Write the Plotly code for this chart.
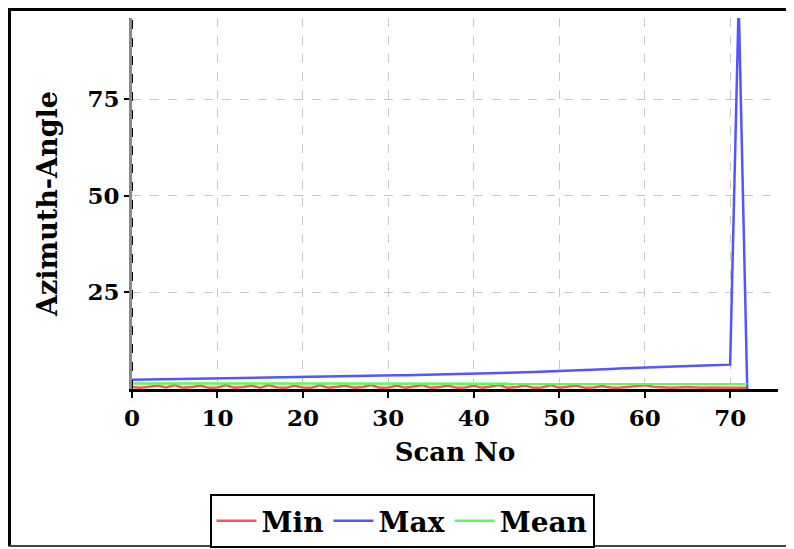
import plotly.graph_objects as go

# номер скана
scan_no = list(range(73))

# значения азимута по сканам
az_min = [0.5, 0.3, 0.6, 0.9, 0.4, 1.0, 0.3, 0.5, 0.9, 0.3,
          0.4, 1.0, 0.3, 0.5, 0.9, 0.3, 1.0, 0.4, 0.3, 0.9,
          0.4, 0.3, 1.0, 0.3, 0.6, 0.9, 0.3, 0.5, 1.0, 0.3,
          0.4, 0.9, 0.3, 0.6, 1.0, 0.3, 0.5, 0.9, 0.3, 0.4,
          0.9, 0.3, 0.6, 1.0, 0.3, 0.5, 0.9, 0.3, 0.4, 1.0,
          0.3, 0.6, 0.9, 0.3, 0.4, 0.8, 0.4, 0.3, 0.5, 0.7,
          1.0, 0.6, 0.4, 0.3, 0.4, 0.5, 0.4, 0.3, 0.4, 0.3,
          0.3, 0.3, 0.3]

az_max = [2.40, 2.43, 2.46, 2.49, 2.52, 2.55, 2.58, 2.61, 2.64, 2.67,
          2.70, 2.74, 2.78, 2.82, 2.86, 2.90, 2.94, 2.98, 3.02, 3.06,
          3.10, 3.14, 3.18, 3.22, 3.26, 3.30, 3.34, 3.38, 3.42, 3.46,
          3.50, 3.54, 3.58, 3.62, 3.66, 3.70, 3.74, 3.78, 3.82, 3.86,
          3.90, 3.97, 4.04, 4.11, 4.18, 4.25, 4.32, 4.39, 4.46, 4.53,
          4.60, 4.70, 4.80, 4.90, 5.00, 5.10, 5.20, 5.30, 5.40, 5.50,
          5.60, 5.67, 5.74, 5.81, 5.88, 5.95, 6.02, 6.09, 6.16, 6.23,
          6.30, 100.0, 0.0]

az_mean = [1.45, 1.45, 1.46, 1.45, 1.44, 1.45, 1.46, 1.45, 1.45, 1.44,
           1.45, 1.46, 1.45, 1.45, 1.44, 1.45, 1.46, 1.45, 1.45, 1.44,
           1.45, 1.45, 1.46, 1.45, 1.44, 1.45, 1.45, 1.46, 1.45, 1.44,
           1.45, 1.45, 1.46, 1.45, 1.44, 1.45, 1.45, 1.46, 1.45, 1.44,
           1.45, 1.44, 1.45, 1.44, 1.43, 1.44, 1.43, 1.42, 1.43, 1.42,
           1.42, 1.41, 1.42, 1.41, 1.40, 1.41, 1.40, 1.40, 1.39, 1.40,
           1.39, 1.38, 1.39, 1.38, 1.38, 1.37, 1.38, 1.37, 1.37, 1.36,
           1.36, 1.36, 1.35]

FONT = 'DejaVu Serif'

fig = go.Figure()
fig.add_trace(go.Scatter(x=scan_no, y=az_min, mode='lines', name='Min',
                         line=dict(color='rgb(255,85,85)', width=2.5)))
fig.add_trace(go.Scatter(x=scan_no, y=az_max, mode='lines', name='Max',
                         line=dict(color='rgb(85,85,255)', width=2.5)))
fig.add_trace(go.Scatter(x=scan_no, y=az_mean, mode='lines', name='Mean',
                         line=dict(color='rgb(85,255,85)', width=2.5)))

# страница сдвинута на 8px (отступ body), поэтому всё считаем от него
OFF = 8
W, H = 794, 549
L, R, T, B = 132 - OFF, W - (778 - OFF), 18 - OFF, H - (390 - OFF)
pw, ph = W - L - R, H - T - B
def px(x): return (x - OFF - L) / pw
def py(y): return (H - B - (y - OFF)) / ph

# рамка вокруг рисунка (правый край за пределами окна)
fig.add_shape(type='line', xref='paper', yref='paper', x0=px(9.5), x1=px(810), y0=py(9.5), y1=py(9.5),
              line=dict(color='black', width=3))
fig.add_shape(type='line', xref='paper', yref='paper', x0=px(9.5), x1=px(9.5), y0=py(8), y1=py(548),
              line=dict(color='black', width=3))
fig.add_shape(type='line', xref='paper', yref='paper', x0=px(9.5), x1=px(810), y0=py(547.5), y1=py(547.5),
              line=dict(color='#444', width=2))
# пунктир по оси Y
fig.add_shape(type='line', xref='x', yref='paper', x0=0, x1=0, y0=0, y1=1,
              line=dict(color='black', width=2, dash='dash'))

fig.update_layout(
    width=W, height=H,
    margin=dict(l=L, r=R, t=T, b=B),
    paper_bgcolor='white', plot_bgcolor='white',
    font=dict(family=FONT, color='black', weight='bold'),
    xaxis=dict(range=[0, 75.6], tickvals=[0, 10, 20, 30, 40, 50, 60, 70],
               tickfont=dict(size=23, family=FONT, weight='bold'),
               title=dict(text='Scan No', font=dict(size=26, family=FONT, weight='bold'), standoff=14),
               showline=True, linecolor='black', linewidth=3, automargin=False,
               ticks='outside', ticklen=6, tickwidth=2, tickcolor='black',
               showgrid=True, gridcolor='#c8c8c8', griddash='dash', gridwidth=1,
               zeroline=False),
    yaxis=dict(range=[0, 96], tickvals=[25, 50, 75],
               tickfont=dict(size=23, family=FONT, weight='bold'),
               title=dict(text='Azimuth-Angle', font=dict(size=27, family=FONT, weight='bold'), standoff=22),
               showline=True, linecolor='#888', linewidth=3, automargin=False,
               ticks='outside', ticklen=5, tickwidth=2, tickcolor='black',
               showgrid=True, gridcolor='#c8c8c8', griddash='dash', gridwidth=1,
               zeroline=False),
    legend=dict(orientation='h', x=px(402), xanchor='center',
                y=py(494), yanchor='top',
                bordercolor='black', borderwidth=2, bgcolor='white', itemwidth=40,
                font=dict(size=28, family=FONT, weight='bold')),
    showlegend=True,
)

fig.write_html('out.html')
